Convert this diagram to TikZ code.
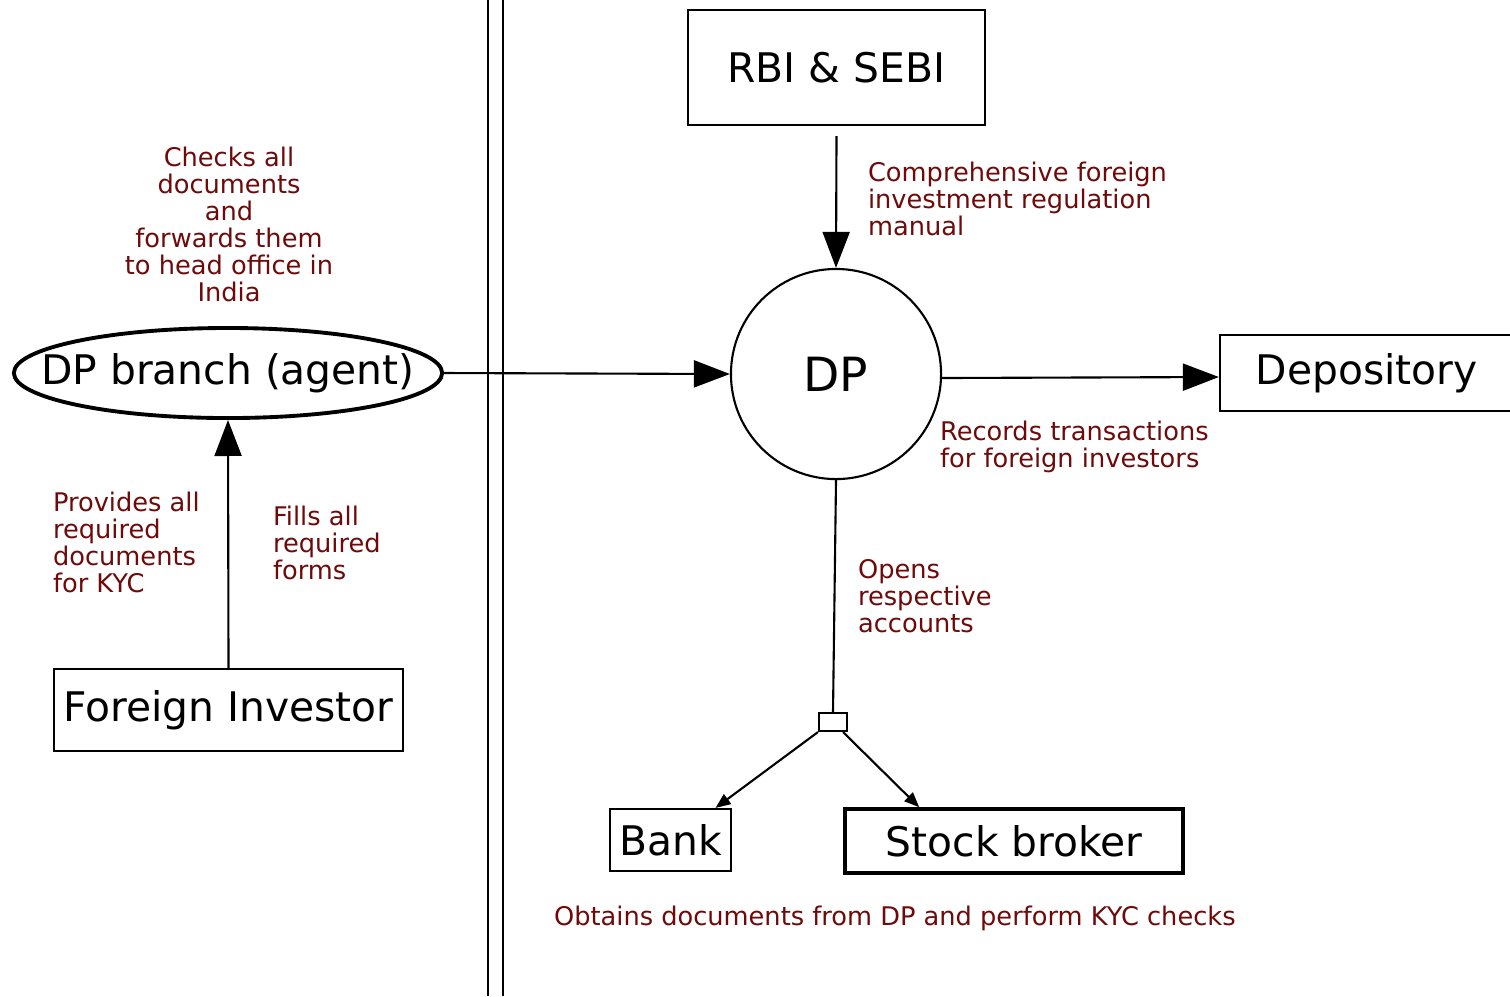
\documentclass[tikz,border=0pt]{standalone}
\usepackage{fontspec}
\setmainfont{DejaVu Sans}
\usetikzlibrary{shapes.geometric,arrows.meta}
\definecolor{notered}{RGB}{110,10,10}
\begin{document}
\begin{tikzpicture}[x=0.01cm,y=-0.01cm,line width=0.6pt,
	bigtip/.style={-{Triangle[length=0.36cm,width=0.27cm]}},
	smalltip/.style={-{Triangle[length=0.15cm,width=0.12cm]}},
	actor/.style={draw,rectangle,inner sep=0pt,font=\fontsize{11.6}{14}\selectfont},
	note/.style={inner sep=0pt,text=notered,font=\fontsize{7.3}{7.7}\selectfont}]
			\useasboundingbox (0,0) rectangle (1510,996);
			%			Double border
			\draw (488,0) -- (488,996) (503,0) -- (503,996);
			%			Nodes
			\node[actor,minimum width=2.97cm,minimum height=1.15cm] (rbi) at (836.5,67.5) {RBI \& SEBI};
			\node[draw,circle,minimum size=2.1cm,inner sep=0pt,font=\fontsize{13.4}{16}\selectfont] (dp) at (836,374) {DP};
			\node[draw,ellipse,line width=1.1pt,minimum width=4.28cm,minimum height=0.9cm,inner sep=0pt] (branch) at (228,373) {};
			\node[inner sep=0pt,font=\fontsize{11.6}{14}\selectfont] (branchtext) at (branch.center) {DP branch (agent)};
			\node[actor,minimum width=3.49cm,minimum height=0.82cm] (investor) at (228.5,710) {Foreign Investor};
			\node[actor,minimum width=2.94cm,minimum height=0.76cm,text width=2.94cm,align=left] (depository) at (1367,373) {\hspace{0.36cm}Depository};
			\node[draw,rectangle,minimum width=0.28cm,minimum height=0.18cm,inner sep=0pt] (split) at (833,722) {};
			\node[actor,minimum width=1.21cm,minimum height=0.62cm] (bank) at (670.5,840) {Bank};
			\node[actor,line width=1pt,minimum width=3.38cm,minimum height=0.64cm] (broker) at (1014,841) {Stock broker};
			%			Connectors
			\draw[bigtip] (branch.east) -- (dp.west);
			\draw[bigtip] (investor.north) -- (branch.south);
			\draw[bigtip] ([yshift=-0.1cm]rbi.south) -- (dp.north);
			\draw[bigtip] ([yshift=-0.04cm]dp.east) -- ([yshift=-0.04cm]depository.west);
			\draw (dp.south) -- (split.north);
			\draw[smalltip] (split.south west) -- ([xshift=0.45cm]bank.north);
			\draw[smalltip] ([xshift=-0.05cm]split.south east) -- ([xshift=0.76cm]broker.north west);
			%			Notes
			\node[note,anchor=north,align=center] (checks) at (229,146) {Checks all\\documents\\and\\forwards them\\to head office in\\India};
			\node[note,anchor=north west,align=left] (manual) at (867,161) {Comprehensive foreign\\investment regulation\\manual};
			\node[note,anchor=north west,align=left] (records) at (939,420) {Records transactions\\for foreign investors};
			\node[note,anchor=north west,align=left] (provides) at (52,491) {Provides all\\required\\documents\\for KYC};
			\node[note,anchor=north west,align=left] (fills) at (272,505) {Fills all\\required\\forms};
			\node[note,anchor=north west,align=left] (opens) at (857,558) {Opens\\respective\\accounts};
			\node[note,anchor=north west] (obtains) at (553,905) {Obtains documents from DP and perform KYC checks};
		\end{tikzpicture}
\end{document}
